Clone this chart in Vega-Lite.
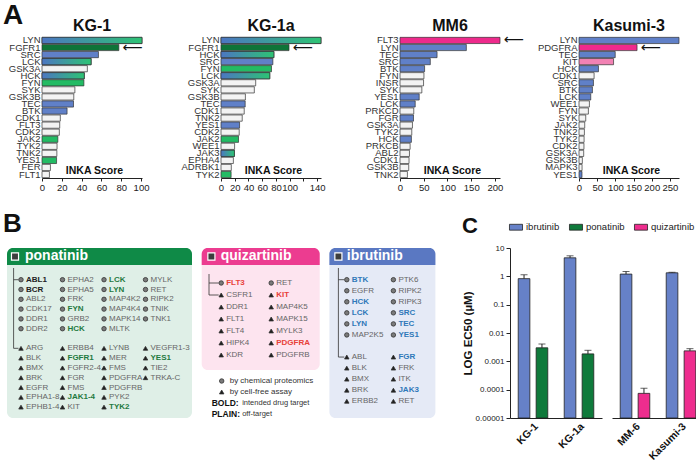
{
"$schema": "https://vega.github.io/schema/vega-lite/v6.json",
"padding": {"left": 3, "top": 2, "right": 0, "bottom": 0},
"config": {
  "font": "Liberation Sans",
  "view": {"stroke": null},
  "axis": {"grid": false, "labelColor": "#222", "domainColor": "#222", "tickColor": "#222", "titleColor": "#111", "labelFont": "Liberation Sans", "titleFont": "Liberation Sans"},
  "title": {"font": "Liberation Sans", "color": "#111"},
  "text": {"font": "Liberation Sans"},
  "header": {"labelFont": "Liberation Sans"},
  "legend": {"labelFont": "Liberation Sans"}
},
"resolve": {"scale": {"color": "independent"}},
"align": "none",
"spacing": 19,
"vconcat": [
{
  "title": {"text": "A", "anchor": "start", "frame": "bounds", "fontSize": 28, "fontWeight": "bold", "dx": -4, "offset": -12},
  "spacing": 0.01,
  "hconcat": [
  {"width": 0.01, "height": 141, "data": {"values": []}, "mark": {"type": "point", "opacity": 0}},
  {
  "data": {"values": [
    {"cell":"KG-1","kinase":"LYN","score":101,"group":"both"},
    {"cell":"KG-1","kinase":"FGFR1","score":77.6,"group":"ponatinib target","arrow":true},
    {"cell":"KG-1","kinase":"SRC","score":57,"group":"ibrutinib"},
    {"cell":"KG-1","kinase":"LCK","score":49.6,"group":"both"},
    {"cell":"KG-1","kinase":"GSK3A","score":45.8,"group":"none"},
    {"cell":"KG-1","kinase":"HCK","score":42.7,"group":"both"},
    {"cell":"KG-1","kinase":"FYN","score":42.3,"group":"ponatinib"},
    {"cell":"KG-1","kinase":"SYK","score":33.2,"group":"none"},
    {"cell":"KG-1","kinase":"GSK3B","score":32.1,"group":"none"},
    {"cell":"KG-1","kinase":"TEC","score":31.8,"group":"ibrutinib"},
    {"cell":"KG-1","kinase":"BTK","score":25.3,"group":"ibrutinib"},
    {"cell":"KG-1","kinase":"CDK1","score":18.5,"group":"none"},
    {"cell":"KG-1","kinase":"FLT3","score":17.9,"group":"none"},
    {"cell":"KG-1","kinase":"CDK2","score":17.5,"group":"none"},
    {"cell":"KG-1","kinase":"JAK2","score":16,"group":"ponatinib"},
    {"cell":"KG-1","kinase":"TYK2","score":15.2,"group":"none"},
    {"cell":"KG-1","kinase":"TNK2","score":15,"group":"none"},
    {"cell":"KG-1","kinase":"YES1","score":14.7,"group":"ponatinib"},
    {"cell":"KG-1","kinase":"FER","score":8.5,"group":"none"},
    {"cell":"KG-1","kinase":"FLT1","score":7.5,"group":"none"},
    {"cell":"KG-1a","kinase":"LYN","score":145.6,"group":"both"},
    {"cell":"KG-1a","kinase":"FGFR1","score":99,"group":"ponatinib target","arrow":true},
    {"cell":"KG-1a","kinase":"HCK","score":77,"group":"both"},
    {"cell":"KG-1a","kinase":"SRC","score":75.5,"group":"ibrutinib"},
    {"cell":"KG-1a","kinase":"FYN","score":73.5,"group":"ponatinib"},
    {"cell":"KG-1a","kinase":"LCK","score":71,"group":"both"},
    {"cell":"KG-1a","kinase":"GSK3A","score":50.5,"group":"none"},
    {"cell":"KG-1a","kinase":"SYK","score":48.5,"group":"none"},
    {"cell":"KG-1a","kinase":"GSK3B","score":35.5,"group":"none"},
    {"cell":"KG-1a","kinase":"TEC","score":35.2,"group":"ibrutinib"},
    {"cell":"KG-1a","kinase":"CDK1","score":33.8,"group":"none"},
    {"cell":"KG-1a","kinase":"TNK2","score":30.9,"group":"none"},
    {"cell":"KG-1a","kinase":"YES1","score":27,"group":"ibrutinib"},
    {"cell":"KG-1a","kinase":"CDK2","score":26.5,"group":"none"},
    {"cell":"KG-1a","kinase":"JAK2","score":25.5,"group":"ponatinib"},
    {"cell":"KG-1a","kinase":"WEE1","score":19.8,"group":"none"},
    {"cell":"KG-1a","kinase":"JAK3","score":19.5,"group":"both"},
    {"cell":"KG-1a","kinase":"EPHA4","score":18,"group":"none"},
    {"cell":"KG-1a","kinase":"ADRBK1","score":15,"group":"none"},
    {"cell":"KG-1a","kinase":"TYK2","score":14.7,"group":"ponatinib"},
    {"cell":"MM6","kinase":"FLT3","score":210.6,"group":"quizartinib target","arrow":true},
    {"cell":"MM6","kinase":"LYN","score":139.7,"group":"ibrutinib"},
    {"cell":"MM6","kinase":"TEC","score":78,"group":"ibrutinib"},
    {"cell":"MM6","kinase":"SRC","score":63.8,"group":"ibrutinib"},
    {"cell":"MM6","kinase":"BTK","score":51.8,"group":"ibrutinib"},
    {"cell":"MM6","kinase":"FYN","score":50.4,"group":"none"},
    {"cell":"MM6","kinase":"INSR","score":49.6,"group":"none"},
    {"cell":"MM6","kinase":"SYK","score":46,"group":"none"},
    {"cell":"MM6","kinase":"YES1","score":40.4,"group":"ibrutinib"},
    {"cell":"MM6","kinase":"LCK","score":32,"group":"ibrutinib"},
    {"cell":"MM6","kinase":"PRKCD","score":29,"group":"none"},
    {"cell":"MM6","kinase":"FGR","score":28.4,"group":"ibrutinib"},
    {"cell":"MM6","kinase":"GSK3A","score":26.2,"group":"none"},
    {"cell":"MM6","kinase":"TYK2","score":24.8,"group":"none"},
    {"cell":"MM6","kinase":"HCK","score":24,"group":"ibrutinib"},
    {"cell":"MM6","kinase":"PRKCB","score":21.3,"group":"none"},
    {"cell":"MM6","kinase":"ABL2","score":19.9,"group":"none"},
    {"cell":"MM6","kinase":"CDK1","score":19,"group":"none"},
    {"cell":"MM6","kinase":"GSK3B","score":18.4,"group":"none"},
    {"cell":"MM6","kinase":"TNK2","score":15.6,"group":"none"},
    {"cell":"Kasumi-3","kinase":"LYN","score":275,"group":"ibrutinib"},
    {"cell":"Kasumi-3","kinase":"PDGFRA","score":159.6,"group":"quizartinib target","arrow":true},
    {"cell":"Kasumi-3","kinase":"TEC","score":99.6,"group":"ibrutinib"},
    {"cell":"Kasumi-3","kinase":"KIT","score":95,"group":"quizartinib"},
    {"cell":"Kasumi-3","kinase":"HCK","score":53.5,"group":"ibrutinib"},
    {"cell":"Kasumi-3","kinase":"CDK1","score":41.5,"group":"none"},
    {"cell":"Kasumi-3","kinase":"SRC","score":39.7,"group":"ibrutinib"},
    {"cell":"Kasumi-3","kinase":"BTK","score":36.9,"group":"ibrutinib"},
    {"cell":"Kasumi-3","kinase":"LCK","score":32.3,"group":"ibrutinib"},
    {"cell":"Kasumi-3","kinase":"WEE1","score":28.6,"group":"none"},
    {"cell":"Kasumi-3","kinase":"FYN","score":25.8,"group":"none"},
    {"cell":"Kasumi-3","kinase":"SYK","score":18.5,"group":"none"},
    {"cell":"Kasumi-3","kinase":"JAK2","score":15.7,"group":"none"},
    {"cell":"Kasumi-3","kinase":"TNK2","score":14.8,"group":"none"},
    {"cell":"Kasumi-3","kinase":"TYK2","score":14,"group":"none"},
    {"cell":"Kasumi-3","kinase":"CDK2","score":13.6,"group":"none"},
    {"cell":"Kasumi-3","kinase":"GSK3A","score":12.9,"group":"none"},
    {"cell":"Kasumi-3","kinase":"GSK3B","score":9.2,"group":"none"},
    {"cell":"Kasumi-3","kinase":"MAPK3","score":8.4,"group":"none"},
    {"cell":"Kasumi-3","kinase":"YES1","score":8.2,"group":"ibrutinib"}
  ]},
  "facet": {"column": {"field": "cell", "type": "nominal", "sort": ["KG-1","KG-1a","MM6","Kasumi-3"], "header": {"title": null, "labelFontSize": 16, "labelFontWeight": "bold", "labelColor": "#111", "labelPadding": 3}}},
  "spacing": 79,
  "bounds": "flush",
  "resolve": {"scale": {"x": "independent", "y": "independent"}},
  "spec": {
    "width": 100, "height": 141,
    "encoding": {
      "y": {"field": "kinase", "type": "nominal", "sort": {"field": "score", "op": "max", "order": "descending"}, "scale": {"paddingInner": 0.12, "paddingOuter": 0.05}, "axis": {"title": null, "ticks": false, "domain": false, "labelFontSize": 9.5, "labelPadding": 2, "labelColor": "#333"}},
      "x": {"field": "score", "type": "quantitative", "scale": {"nice": false, "zero": true}, "axis": {"title": "INKA Score", "titleFontSize": 10.5, "titleFontWeight": "bold", "titleX": 52, "titleY": -5, "titleAlign": "center", "titleBaseline": "alphabetic", "tickCount": 6, "labelFontSize": 9.5, "labelOverlap": false, "tickSize": 3, "labelPadding": 1, "labelFlush": false, "labelExpr": "datum.value == 120 ? '' : datum.label"}}
    },
    "layer": [
      {"mark": {"type": "bar", "stroke": "#333", "strokeWidth": 0.7}, "encoding": {"color": {"field": "group", "type": "nominal", "scale": {"domain": ["none","ibrutinib","ponatinib","both","ponatinib target","quizartinib target","quizartinib"], "range": ["#f3f3f3","#6080c8","#23bb64","#3f9ab0","#0e7438","#ee2a8c","#f282b4"]}, "legend": null}}},
      {"transform": [{"filter": "datum.group === 'both'"}], "mark": {"type": "bar", "stroke": "#333", "strokeWidth": 0.7, "color": {"gradient": "linear", "x1": 0, "y1": 0, "x2": 1, "y2": 0, "stops": [{"offset": 0, "color": "#4c76c2"}, {"offset": 1, "color": "#2dc374"}]}}},
      {"transform": [{"filter": "datum.arrow"}], "mark": {"type": "text", "text": "⟵", "align": "left", "baseline": "middle", "dx": 4, "fontSize": 14, "font": "DejaVu Sans", "color": "#111"}}
    ]
  }
  }
  ]
},
{
  "resolve": {"scale": {"color": "independent"}},
  "spacing": 26,
  "hconcat": [
  {
    "title": {"text": "B", "anchor": "start", "frame": "bounds", "fontSize": 26, "fontWeight": "bold", "dx": -4, "offset": 11},
    "spacing": 9.7,
    "hconcat": [
    {
      "width": 185, "height": 170,
      "view": {"fill": "#dfefe7", "cornerRadius": 6, "stroke": null},
      "layer": [
        {"data": {"values": [{"drug": "ponatinib"}]}, "mark": {"type": "rect", "color": "#0f8a47", "cornerRadiusTopLeft": 6, "cornerRadiusTopRight": 6}, "encoding": {"x": {"datum": 0.663, "type": "quantitative", "axis": null}, "x2": {"datum": 5.12}, "y": {"datum": -3.235, "type": "quantitative", "axis": null}, "y2": {"datum": -1.5}}},
        {"data": {"values": [{"drug": "ponatinib"}]}, "mark": {"type": "point", "shape": "square", "filled": true, "color": "#3d3d3d", "stroke": "#ffffff", "strokeWidth": 1.2, "size": 50, "opacity": 1}, "encoding": {"x": {"datum": 0.856, "type": "quantitative", "axis": null}, "y": {"datum": -2.368, "type": "quantitative", "axis": null}}},
        {"data": {"values": [{"drug": "ponatinib"}]}, "mark": {"type": "text", "align": "left", "baseline": "middle", "fontSize": 14, "fontWeight": "bold", "color": "#ffffff"}, "encoding": {"x": {"datum": 1.097, "type": "quantitative", "axis": null}, "y": {"datum": -2.368, "type": "quantitative", "axis": null}, "text": {"field": "drug"}}},
        {"data": {"values": [{"drug": "ponatinib"}]}, "mark": {"type": "rule", "color": "#333", "strokeWidth": 0.8}, "encoding": {"x": {"datum": 0.822, "type": "quantitative", "axis": null}, "y": {"datum": -1.194, "type": "quantitative", "axis": null}, "y2": {"datum": 7}}},
        {"data": {"values": [{"drug": "ponatinib"}]}, "mark": {"type": "rule", "color": "#333", "strokeWidth": 0.8}, "encoding": {"x": {"datum": 0.822, "type": "quantitative", "axis": null}, "x2": {"datum": 0.94}, "y": {"datum": 0, "type": "quantitative", "axis": null}}},
        {"data": {"values": [{"drug": "ponatinib"}]}, "mark": {"type": "rule", "color": "#333", "strokeWidth": 0.8}, "encoding": {"x": {"datum": 0.822, "type": "quantitative", "axis": null}, "x2": {"datum": 0.94}, "y": {"datum": 7, "type": "quantitative", "axis": null}}},
        {
          "data": {"values": [
            {"name":"ABL1","col":1,"line":0,"method":"proteomics","role":"primary"},
            {"name":"BCR","col":1,"line":1,"method":"proteomics","role":"primary"},
            {"name":"ABL2","col":1,"line":2,"method":"proteomics"},
            {"name":"CDK17","col":1,"line":3,"method":"proteomics"},
            {"name":"DDR1","col":1,"line":4,"method":"proteomics"},
            {"name":"DDR2","col":1,"line":5,"method":"proteomics"},
            {"name":"EPHA2","col":2,"line":0,"method":"proteomics"},
            {"name":"EPHA5","col":2,"line":1,"method":"proteomics"},
            {"name":"FRK","col":2,"line":2,"method":"proteomics"},
            {"name":"FYN","col":2,"line":3,"method":"proteomics","role":"intended"},
            {"name":"GRB2","col":2,"line":4,"method":"proteomics"},
            {"name":"HCK","col":2,"line":5,"method":"proteomics","role":"intended"},
            {"name":"LCK","col":3,"line":0,"method":"proteomics","role":"intended"},
            {"name":"LYN","col":3,"line":1,"method":"proteomics","role":"intended"},
            {"name":"MAP4K2","col":3,"line":2,"method":"proteomics"},
            {"name":"MAP4K4","col":3,"line":3,"method":"proteomics"},
            {"name":"MAPK14","col":3,"line":4,"method":"proteomics"},
            {"name":"MLTK","col":3,"line":5,"method":"proteomics"},
            {"name":"MYLK","col":4,"line":0,"method":"proteomics"},
            {"name":"RET","col":4,"line":1,"method":"proteomics"},
            {"name":"RIPK2","col":4,"line":2,"method":"proteomics"},
            {"name":"TNIK","col":4,"line":3,"method":"proteomics"},
            {"name":"TNK1","col":4,"line":4,"method":"proteomics"},
            {"name":"ARG","col":1,"line":7,"method":"cell-free"},
            {"name":"BLK","col":1,"line":8,"method":"cell-free"},
            {"name":"BMX","col":1,"line":9,"method":"cell-free"},
            {"name":"BRK","col":1,"line":10,"method":"cell-free"},
            {"name":"EGFR","col":1,"line":11,"method":"cell-free"},
            {"name":"EPHA1-8","col":1,"line":12,"method":"cell-free"},
            {"name":"EPHB1-4","col":1,"line":13,"method":"cell-free"},
            {"name":"ERBB4","col":2,"line":7,"method":"cell-free"},
            {"name":"FGFR1","col":2,"line":8,"method":"cell-free","role":"intended"},
            {"name":"FGFR2-4","col":2,"line":9,"method":"cell-free"},
            {"name":"FGR","col":2,"line":10,"method":"cell-free"},
            {"name":"FMS","col":2,"line":11,"method":"cell-free"},
            {"name":"JAK1-4","col":2,"line":12,"method":"cell-free","role":"intended"},
            {"name":"KIT","col":2,"line":13,"method":"cell-free"},
            {"name":"LYNB","col":3,"line":7,"method":"cell-free"},
            {"name":"MER","col":3,"line":8,"method":"cell-free"},
            {"name":"FMS","col":3,"line":9,"method":"cell-free"},
            {"name":"PDGFRA","col":3,"line":10,"method":"cell-free"},
            {"name":"PDGFRB","col":3,"line":11,"method":"cell-free"},
            {"name":"PYK2","col":3,"line":12,"method":"cell-free"},
            {"name":"TYK2","col":3,"line":13,"method":"cell-free","role":"intended"},
            {"name":"VEGFR1-3","col":4,"line":7,"method":"cell-free"},
            {"name":"YES1","col":4,"line":8,"method":"cell-free","role":"intended"},
            {"name":"TIE2","col":4,"line":9,"method":"cell-free"},
            {"name":"TRKA-C","col":4,"line":10,"method":"cell-free"}
          ]},
          "encoding": {
            "x": {"field": "col", "type": "quantitative", "scale": {"domain": [0.663, 5.12], "nice": false, "zero": false}, "axis": null},
            "y": {"field": "line", "type": "quantitative", "scale": {"domain": [-3.235, 14.11], "nice": false, "zero": false, "reverse": true}, "axis": null}
          },
          "layer": [
            {"mark": {"type": "point", "filled": true, "size": 20, "stroke": "#333", "strokeWidth": 0.8, "opacity": 1}, "encoding": {"shape": {"field": "method", "type": "nominal", "scale": {"domain": ["proteomics","cell-free"], "range": ["circle","triangle-up"]}, "legend": null}, "fill": {"field": "method", "type": "nominal", "scale": {"domain": ["proteomics","cell-free"], "range": ["#7a7a7a","#1e1e1e"]}, "legend": null}}},
            {"transform": [{"filter": "!datum.role"}], "mark": {"type": "text", "align": "left", "baseline": "middle", "dx": 5, "fontSize": 8, "color": "#666"}, "encoding": {"text": {"field": "name"}}},
            {"transform": [{"filter": "datum.role === 'intended'"}], "mark": {"type": "text", "align": "left", "baseline": "middle", "dx": 5, "fontSize": 8, "fontWeight": "bold", "color": "#1f7a41"}, "encoding": {"text": {"field": "name"}}},
            {"transform": [{"filter": "datum.role === 'primary'"}], "mark": {"type": "text", "align": "left", "baseline": "middle", "dx": 5, "fontSize": 8, "fontWeight": "bold", "color": "#222"}, "encoding": {"text": {"field": "name"}}}
          ]
        }
      ]
    },
    {
      "spacing": 5.5,
      "vconcat": [
      {
        "width": 118, "height": 122,
        "view": {"fill": "#fde4ef", "cornerRadius": 6, "stroke": null},
        "layer": [
          {"data": {"values": [{"drug": "quizartinib"}]}, "mark": {"type": "rect", "color": "#ec3c90", "cornerRadiusTopLeft": 6, "cornerRadiusTopRight": 6}, "encoding": {"x": {"datum": 0.61, "type": "quantitative", "axis": null}, "x2": {"datum": 2.97}, "y": {"datum": -2.917, "type": "quantitative", "axis": null}, "y2": {"datum": -1.5}}},
          {"data": {"values": [{"drug": "quizartinib"}]}, "mark": {"type": "point", "shape": "square", "filled": true, "color": "#3d3d3d", "stroke": "#ffffff", "strokeWidth": 1.2, "size": 50, "opacity": 1}, "encoding": {"x": {"datum": 0.804, "type": "quantitative", "axis": null}, "y": {"datum": -2.209, "type": "quantitative", "axis": null}}},
          {"data": {"values": [{"drug": "quizartinib"}]}, "mark": {"type": "text", "align": "left", "baseline": "middle", "fontSize": 14, "fontWeight": "bold", "color": "#ffffff"}, "encoding": {"x": {"datum": 0.99, "type": "quantitative", "axis": null}, "y": {"datum": -2.209, "type": "quantitative", "axis": null}, "text": {"field": "drug"}}},
          {"data": {"values": [{"drug": "quizartinib"}]}, "mark": {"type": "rule", "color": "#333", "strokeWidth": 0.8}, "encoding": {"x": {"datum": 0.756, "type": "quantitative", "axis": null}, "y": {"datum": -0.75, "type": "quantitative", "axis": null}, "y2": {"datum": 1}}},
          {"data": {"values": [{"drug": "quizartinib"}]}, "mark": {"type": "rule", "color": "#333", "strokeWidth": 0.8}, "encoding": {"x": {"datum": 0.756, "type": "quantitative", "axis": null}, "x2": {"datum": 0.95}, "y": {"datum": 0, "type": "quantitative", "axis": null}}},
          {"data": {"values": [{"drug": "quizartinib"}]}, "mark": {"type": "rule", "color": "#333", "strokeWidth": 0.8}, "encoding": {"x": {"datum": 0.756, "type": "quantitative", "axis": null}, "x2": {"datum": 0.95}, "y": {"datum": 1, "type": "quantitative", "axis": null}}},
          {
            "data": {"values": [
              {"name":"FLT3","col":1,"line":0,"method":"proteomics","role":"intended"},
              {"name":"RET","col":2,"line":0,"method":"proteomics"},
              {"name":"CSFR1","col":1,"line":1,"method":"cell-free"},
              {"name":"DDR1","col":1,"line":2,"method":"cell-free"},
              {"name":"FLT1","col":1,"line":3,"method":"cell-free"},
              {"name":"FLT4","col":1,"line":4,"method":"cell-free"},
              {"name":"HIPK4","col":1,"line":5,"method":"cell-free"},
              {"name":"KDR","col":1,"line":6,"method":"cell-free"},
              {"name":"KIT","col":2,"line":1,"method":"cell-free","role":"intended"},
              {"name":"MAP4K5","col":2,"line":2,"method":"cell-free"},
              {"name":"MAPK15","col":2,"line":3,"method":"cell-free"},
              {"name":"MYLK3","col":2,"line":4,"method":"cell-free"},
              {"name":"PDGFRA","col":2,"line":5,"method":"cell-free","role":"intended"},
              {"name":"PDGFRB","col":2,"line":6,"method":"cell-free"}
            ]},
            "encoding": {
              "x": {"field": "col", "type": "quantitative", "scale": {"domain": [0.61, 2.97], "nice": false, "zero": false}, "axis": null},
              "y": {"field": "line", "type": "quantitative", "scale": {"domain": [-2.917, 7.25], "nice": false, "zero": false, "reverse": true}, "axis": null}
            },
            "layer": [
              {"mark": {"type": "point", "filled": true, "size": 20, "stroke": "#333", "strokeWidth": 0.8, "opacity": 1}, "encoding": {"shape": {"field": "method", "type": "nominal", "scale": {"domain": ["proteomics","cell-free"], "range": ["circle","triangle-up"]}, "legend": null}, "fill": {"field": "method", "type": "nominal", "scale": {"domain": ["proteomics","cell-free"], "range": ["#7a7a7a","#1e1e1e"]}, "legend": null}}},
              {"transform": [{"filter": "!datum.role"}], "mark": {"type": "text", "align": "left", "baseline": "middle", "dx": 5, "fontSize": 8, "color": "#666"}, "encoding": {"text": {"field": "name"}}},
              {"transform": [{"filter": "datum.role === 'intended'"}], "mark": {"type": "text", "align": "left", "baseline": "middle", "dx": 5, "fontSize": 8, "fontWeight": "bold", "color": "#e8413a"}, "encoding": {"text": {"field": "name"}}}
            ]
          }
        ]
      },
      {
        "width": 40, "height": 44,
        "data": {"values": [
          {"label": "by chemical proteomics", "method": "proteomics"},
          {"label": "by cell-free assay", "method": "cell-free"},
          {"label": "intended drug target", "key": "BOLD:"},
          {"label": "off-target", "key": "PLAIN:"}
        ]},
        "encoding": {"y": {"field": "label", "type": "nominal", "axis": null, "scale": {"domain": ["by chemical proteomics","by cell-free assay","intended drug target","off-target"], "paddingInner": 0, "paddingOuter": 0}}},
        "layer": [
          {"transform": [{"filter": "datum.method"}], "mark": {"type": "point", "filled": true, "size": 20, "stroke": "#333", "strokeWidth": 0.8, "opacity": 1}, "encoding": {"shape": {"field": "method", "type": "nominal", "scale": {"domain": ["proteomics","cell-free"], "range": ["circle","triangle-up"]}, "legend": null}, "fill": {"field": "method", "type": "nominal", "scale": {"domain": ["proteomics","cell-free"], "range": ["#7a7a7a","#1e1e1e"]}, "legend": null}}},
          {"transform": [{"filter": "datum.method"}], "mark": {"type": "text", "align": "left", "baseline": "middle", "dx": 8, "fontSize": 8, "color": "#333"}, "encoding": {"text": {"field": "label"}}},
          {"transform": [{"filter": "datum.key"}], "mark": {"type": "text", "align": "left", "baseline": "middle", "dx": -10, "fontSize": 8.5, "fontWeight": "bold", "color": "#111"}, "encoding": {"text": {"field": "key"}}},
          {"transform": [{"filter": "datum.key"}], "mark": {"type": "text", "align": "left", "baseline": "middle", "dx": 20.5, "fontSize": 7.5, "color": "#333"}, "encoding": {"text": {"field": "label"}}}
        ]
      }
      ]
    },
    {
      "width": 106, "height": 170,
      "view": {"fill": "#e5eaf6", "cornerRadius": 6, "stroke": null},
      "layer": [
        {"data": {"values": [{"drug": "ibrutinib"}]}, "mark": {"type": "rect", "color": "#5a78c2", "cornerRadiusTopLeft": 6, "cornerRadiusTopRight": 6}, "encoding": {"x": {"datum": 0.627, "type": "quantitative", "axis": null}, "x2": {"datum": 2.901}, "y": {"datum": -2.869, "type": "quantitative", "axis": null}, "y2": {"datum": -1.33}}},
        {"data": {"values": [{"drug": "ibrutinib"}]}, "mark": {"type": "point", "shape": "square", "filled": true, "color": "#3d3d3d", "stroke": "#ffffff", "strokeWidth": 1.2, "size": 50, "opacity": 1}, "encoding": {"x": {"datum": 0.82, "type": "quantitative", "axis": null}, "y": {"datum": -2.1, "type": "quantitative", "axis": null}}},
        {"data": {"values": [{"drug": "ibrutinib"}]}, "mark": {"type": "text", "align": "left", "baseline": "middle", "fontSize": 14, "fontWeight": "bold", "color": "#ffffff"}, "encoding": {"x": {"datum": 1.0, "type": "quantitative", "axis": null}, "y": {"datum": -2.1, "type": "quantitative", "axis": null}, "text": {"field": "drug"}}},
        {"data": {"values": [{"drug": "ibrutinib"}]}, "mark": {"type": "rule", "color": "#333", "strokeWidth": 0.8}, "encoding": {"x": {"datum": 0.82, "type": "quantitative", "axis": null}, "y": {"datum": -1.06, "type": "quantitative", "axis": null}, "y2": {"datum": 7}}},
        {"data": {"values": [{"drug": "ibrutinib"}]}, "mark": {"type": "rule", "color": "#333", "strokeWidth": 0.8}, "encoding": {"x": {"datum": 0.82, "type": "quantitative", "axis": null}, "x2": {"datum": 0.946}, "y": {"datum": 0, "type": "quantitative", "axis": null}}},
        {"data": {"values": [{"drug": "ibrutinib"}]}, "mark": {"type": "rule", "color": "#333", "strokeWidth": 0.8}, "encoding": {"x": {"datum": 0.82, "type": "quantitative", "axis": null}, "x2": {"datum": 0.946}, "y": {"datum": 7, "type": "quantitative", "axis": null}}},
        {
          "data": {"values": [
            {"name":"BTK","col":1,"line":0,"method":"proteomics","role":"intended"},
            {"name":"EGFR","col":1,"line":1,"method":"proteomics"},
            {"name":"HCK","col":1,"line":2,"method":"proteomics","role":"intended"},
            {"name":"LCK","col":1,"line":3,"method":"proteomics","role":"intended"},
            {"name":"LYN","col":1,"line":4,"method":"proteomics","role":"intended"},
            {"name":"MAP2K5","col":1,"line":5,"method":"proteomics"},
            {"name":"PTK6","col":2,"line":0,"method":"proteomics"},
            {"name":"RIPK2","col":2,"line":1,"method":"proteomics"},
            {"name":"RIPK3","col":2,"line":2,"method":"proteomics"},
            {"name":"SRC","col":2,"line":3,"method":"proteomics","role":"intended"},
            {"name":"TEC","col":2,"line":4,"method":"proteomics","role":"intended"},
            {"name":"YES1","col":2,"line":5,"method":"proteomics","role":"intended"},
            {"name":"ABL","col":1,"line":7,"method":"cell-free"},
            {"name":"BLK","col":1,"line":8,"method":"cell-free"},
            {"name":"BMX","col":1,"line":9,"method":"cell-free"},
            {"name":"BRK","col":1,"line":10,"method":"cell-free"},
            {"name":"ERBB2","col":1,"line":11,"method":"cell-free"},
            {"name":"FGR","col":2,"line":7,"method":"cell-free","role":"intended"},
            {"name":"FRK","col":2,"line":8,"method":"cell-free"},
            {"name":"ITK","col":2,"line":9,"method":"cell-free"},
            {"name":"JAK3","col":2,"line":10,"method":"cell-free","role":"intended"},
            {"name":"RET","col":2,"line":11,"method":"cell-free"}
          ]},
          "encoding": {
            "x": {"field": "col", "type": "quantitative", "scale": {"domain": [0.627, 2.901], "nice": false, "zero": false}, "axis": null},
            "y": {"field": "line", "type": "quantitative", "scale": {"domain": [-2.869, 12.516], "nice": false, "zero": false, "reverse": true}, "axis": null}
          },
          "layer": [
            {"mark": {"type": "point", "filled": true, "size": 20, "stroke": "#333", "strokeWidth": 0.8, "opacity": 1}, "encoding": {"shape": {"field": "method", "type": "nominal", "scale": {"domain": ["proteomics","cell-free"], "range": ["circle","triangle-up"]}, "legend": null}, "fill": {"field": "method", "type": "nominal", "scale": {"domain": ["proteomics","cell-free"], "range": ["#7a7a7a","#1e1e1e"]}, "legend": null}}},
            {"transform": [{"filter": "!datum.role"}], "mark": {"type": "text", "align": "left", "baseline": "middle", "dx": 5, "fontSize": 8, "color": "#666"}, "encoding": {"text": {"field": "name"}}},
            {"transform": [{"filter": "datum.role === 'intended'"}], "mark": {"type": "text", "align": "left", "baseline": "middle", "dx": 5, "fontSize": 8, "fontWeight": "bold", "color": "#2f78b9"}, "encoding": {"text": {"field": "name"}}}
          ]
        }
      ]
    }
    ]
  },
  {
    "title": {"text": "C", "anchor": "start", "frame": "bounds", "fontSize": 22, "fontWeight": "bold", "dx": 0, "offset": -18},
    "data": {"values": [
      {"cell":"KG-1","pair":"1","drug":"ibrutinib","ec50":0.83,"hi":1.13},
      {"cell":"KG-1","pair":"1","drug":"ponatinib","ec50":0.003,"hi":0.0041},
      {"cell":"KG-1a","pair":"1","drug":"ibrutinib","ec50":4.5,"hi":5.3},
      {"cell":"KG-1a","pair":"1","drug":"ponatinib","ec50":0.00183,"hi":0.00245},
      {"cell":"MM-6","pair":"2","drug":"ibrutinib","ec50":1.2,"hi":1.48},
      {"cell":"MM-6","pair":"2","drug":"quizartinib","ec50":0.000074,"hi":0.000112},
      {"cell":"Kasumi-3","pair":"2","drug":"ibrutinib","ec50":1.33,"hi":1.39},
      {"cell":"Kasumi-3","pair":"2","drug":"quizartinib","ec50":0.00234,"hi":0.0028}
    ]},
    "facet": {"column": {"field": "pair", "type": "nominal", "header": {"title": null, "labels": false}}},
    "spacing": 10,
    "bounds": "flush",
    "resolve": {"scale": {"x": "independent", "xOffset": "independent"}},
    "spec": {
      "width": 92, "height": 170,
      "encoding": {
        "x": {"field": "cell", "type": "nominal", "sort": ["KG-1","KG-1a","MM-6","Kasumi-3"], "scale": {"paddingInner": 0.24, "paddingOuter": 0.12}, "axis": {"title": null, "labelAngle": -45, "labelFontSize": 10.5, "labelFontWeight": "bold", "labelColor": "#111", "ticks": false, "labelPadding": 3}},
        "xOffset": {"field": "drug", "type": "nominal", "scale": {"paddingInner": 0.35, "paddingOuter": 0.15}}
      },
      "layer": [
        {"mark": {"type": "bar", "stroke": "#222", "strokeWidth": 0.8}, "encoding": {
          "y": {"field": "ec50", "type": "quantitative", "scale": {"type": "log", "domain": [0.00001, 10], "nice": false}, "axis": {"title": "LOG EC50 (µM)", "titleFontSize": 11.5, "titleFontWeight": "bold", "titlePadding": 2, "values": [10, 1, 0.1, 0.01, 0.001, 0.0001, 0.00001], "labelExpr": "format(datum.value, '.5~f')", "labelFontSize": 8, "tickSize": 4, "labelPadding": 2}},
          "y2": {"datum": 0.00001},
          "color": {"field": "drug", "type": "nominal", "scale": {"domain": ["ibrutinib","ponatinib","quizartinib"], "range": ["#6681c8","#0f7a3b","#ee2d8e"]}, "legend": {"orient": "none", "legendX": -1, "legendY": -28, "direction": "horizontal", "title": null, "symbolType": "M-1,-0.45H1V0.45H-1Z", "symbolSize": 170, "symbolStrokeColor": "#222", "symbolStrokeWidth": 0.8, "labelFontSize": 9.5, "labelColor": "#222", "columnPadding": 7, "labelOffset": 3}}
        }},
        {"mark": {"type": "rule", "color": "#222", "strokeWidth": 1}, "encoding": {"y": {"field": "ec50", "type": "quantitative"}, "y2": {"field": "hi"}}},
        {"mark": {"type": "tick", "color": "#222", "thickness": 1, "size": 7}, "encoding": {"y": {"field": "hi", "type": "quantitative"}}}
      ]
    }
  }
  ]
}
]
}
